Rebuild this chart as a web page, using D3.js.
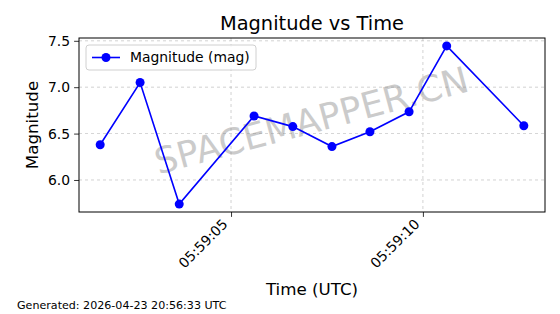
<!DOCTYPE html>
<html>
<head>
<meta charset="utf-8">
<script src="https://cdn.jsdelivr.net/npm/d3@7"></script>
<style>
  body { margin: 0; background: #fff; }
  text { font-family: "DejaVu Sans", sans-serif; }
</style>
</head>
<body>
<div id="chart"></div>
<script>
// sample times (seconds past 05:59:00 UTC) and magnitudes
const seconds = [1.59, 2.63, 3.65, 5.60, 6.61, 7.63, 8.62, 9.64, 10.62, 12.63];
const magnitudes = [6.38, 7.05, 5.74, 6.69, 6.575, 6.36, 6.52, 6.735, 7.445, 6.585];
const yTicks = [6.0, 6.5, 7.0, 7.5];
const seriesName = "Magnitude (mag)";
const generatedText = "Generated: 2026-04-23 20:56:33 UTC";

const base = Date.UTC(2026, 3, 23, 5, 59, 0);
const data = seconds.map((s, i) => ({ t: new Date(base + s * 1000), v: magnitudes[i] }));

const W = 560, H = 314;
const m = { left: 79, right: 15, top: 38, bottom: 102 };
const iw = W - m.left - m.right, ih = H - m.top - m.bottom;

const svg = d3.select("#chart").append("svg")
  .attr("width", W).attr("height", H);

// matplotlib-ish 5% margins
const tExt = d3.extent(data, d => +d.t), tPad = (tExt[1] - tExt[0]) * 0.05;
const vExt = d3.extent(data, d => d.v), vPad = (vExt[1] - vExt[0]) * 0.05;

const x = d3.scaleUtc()
  .domain([new Date(tExt[0] - tPad), new Date(tExt[1] + tPad)])
  .range([0, iw]);
const y = d3.scaleLinear()
  .domain([vExt[0] - vPad, vExt[1] + vPad])
  .range([ih, 0]);

const xTicks = x.ticks(d3.utcSecond.every(5));

const g = svg.append("g").attr("transform", `translate(${m.left},${m.top})`);

// grid
g.append("g").selectAll("line").data(xTicks).join("line")
  .attr("x1", d => x(d)).attr("x2", d => x(d)).attr("y1", 0).attr("y2", ih)
  .attr("stroke", "#b0b0b0").attr("stroke-width", 0.8).attr("stroke-dasharray", "3,3").attr("opacity", 0.7);
g.append("g").selectAll("line").data(yTicks).join("line")
  .attr("x1", 0).attr("x2", iw).attr("y1", d => y(d)).attr("y2", d => y(d))
  .attr("stroke", "#b0b0b0").attr("stroke-width", 0.8).attr("stroke-dasharray", "3,3").attr("opacity", 0.7);

// watermark
g.append("text")
  .attr("transform", `translate(${iw / 2},${ih / 2 - 2}) rotate(-15)`)
  .attr("text-anchor", "middle").attr("dominant-baseline", "middle")
  .attr("font-size", 36).attr("fill", "#808080").attr("opacity", 0.4)
  .text("SPACEMAPPER.CN");

// axes
const xAxis = g.append("g").attr("transform", `translate(0,${ih})`)
  .call(d3.axisBottom(x).tickValues(xTicks).tickFormat(d3.utcFormat("%H:%M:%S")).tickSize(4.9).tickPadding(4));
xAxis.selectAll("text")
  .attr("font-size", 13.9).attr("fill", "#000")
  .attr("text-anchor", "end").attr("dy", null).attr("y", 0)
  .attr("transform", "translate(-3,13) rotate(-45)");
const yAxis = g.append("g")
  .call(d3.axisLeft(y).tickValues(yTicks).tickFormat(d3.format(".1f")).tickSize(4.9).tickPadding(4));
yAxis.selectAll("text").attr("font-size", 13.9).attr("fill", "#000");
[xAxis, yAxis].forEach(a => {
  a.select(".domain").remove();
  a.selectAll("line").attr("stroke", "#000").attr("stroke-width", 0.8);
});
g.append("rect").attr("width", iw).attr("height", ih)
  .attr("fill", "none").attr("stroke", "#000").attr("stroke-width", 1);

// series
const line = d3.line().x(d => x(d.t)).y(d => y(d.v));
g.append("path").datum(data).attr("d", line)
  .attr("fill", "none").attr("stroke", "#0000ff").attr("stroke-width", 1.6);
g.append("g").selectAll("circle").data(data).join("circle")
  .attr("cx", d => x(d.t)).attr("cy", d => y(d.v)).attr("r", 4.5).attr("fill", "#0000ff");

// legend
const lg = g.append("g").attr("transform", "translate(7,7)");
lg.append("rect").attr("width", 170).attr("height", 25).attr("rx", 3)
  .attr("fill", "#fff").attr("fill-opacity", 0.8).attr("stroke", "#d0d0d0");
lg.append("line").attr("x1", 6).attr("x2", 34).attr("y1", 12.5).attr("y2", 12.5)
  .attr("stroke", "#0000ff").attr("stroke-width", 1.6);
lg.append("circle").attr("cx", 20).attr("cy", 12.5).attr("r", 4.5).attr("fill", "#0000ff");
lg.append("text").attr("x", 44).attr("y", 12.5).attr("dy", "0.35em")
  .attr("font-size", 13.9).text(seriesName);

// titles
svg.append("text").attr("x", m.left + iw / 2).attr("y", 30)
  .attr("text-anchor", "middle").attr("font-size", 19.4).text("Magnitude vs Time");
svg.append("text").attr("x", m.left + iw / 2).attr("y", 295)
  .attr("text-anchor", "middle").attr("font-size", 16.7).text("Time (UTC)");
svg.append("text").attr("transform", `translate(38,${m.top + ih / 2}) rotate(-90)`)
  .attr("text-anchor", "middle").attr("font-size", 16.7).text("Magnitude");
svg.append("text").attr("x", 17).attr("y", 309)
  .attr("font-size", 11.1).text(generatedText);
</script>
</body>
</html>
